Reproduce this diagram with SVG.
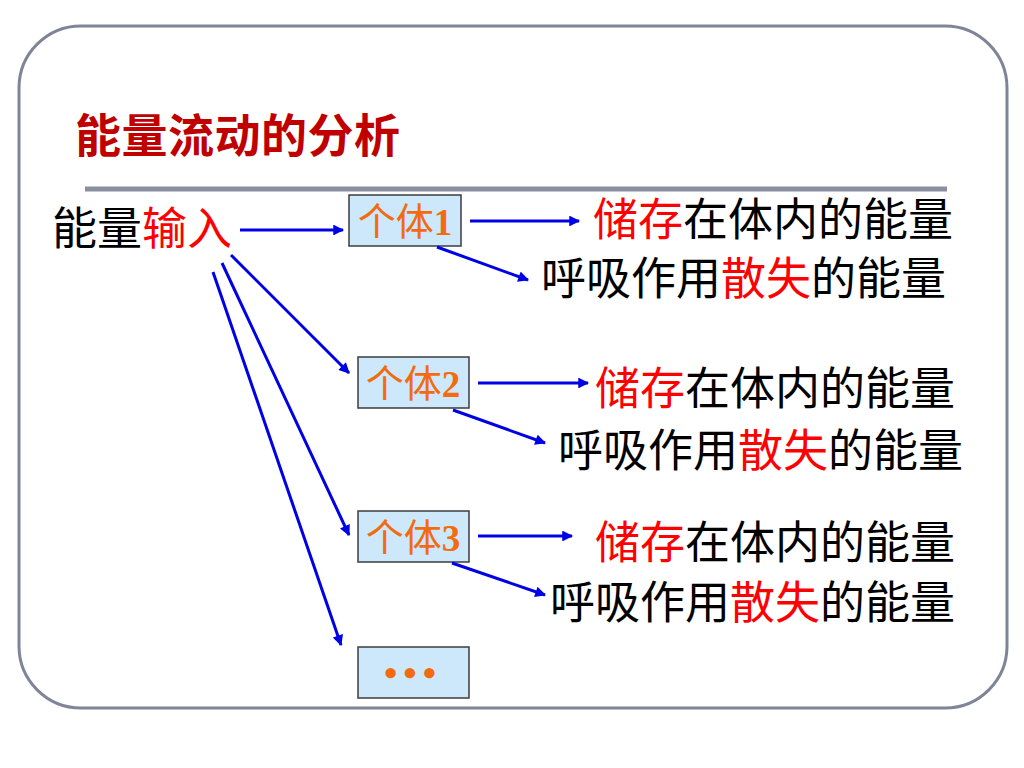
<svg xmlns="http://www.w3.org/2000/svg" width="1024" height="768" viewBox="0 0 1024 768">
<style>
.frame{fill:#ffffff;stroke:#7f8599;stroke-width:3}
.rule{stroke:#8a8fa0;stroke-width:5}
.box{fill:#cce8fa;stroke:#3c3c3c;stroke-width:1.5}
.cn{font-family:"Noto Sans CJK SC","Noto Sans CJK TC",sans-serif;font-size:45px;fill:#000000}
.red{fill:#ff0000}
.title{font-family:"Noto Sans CJK SC",sans-serif;font-size:46px;font-weight:bold;fill:#c00000}
.lbl{font-family:"Liberation Serif","Noto Sans CJK SC",serif;font-size:38px;fill:#f26b10}
.num{font-weight:bold;font-size:37px}
.arr{stroke:#0000e6;stroke-width:3;fill:none;marker-end:url(#ah)}
</style>
<defs>
<marker id="ah" viewBox="0 0 10 10" refX="9" refY="5" markerWidth="4" markerHeight="3.6" orient="auto" markerUnits="strokeWidth">
<path d="M0,0 L10,5 L0,10 z" fill="#0000e6"/>
</marker>
</defs>
<rect class="frame" x="19" y="26" width="988" height="682" rx="62" ry="62"/>
<text class="title" x="75" y="152" textLength="325">能量流动的分析</text>
<line class="rule" x1="85" y1="189" x2="947" y2="189"/>
<g id="source">
<text class="cn" x="52" y="245" font-size="44px"><tspan>能量</tspan><tspan class="red">输入</tspan></text>
</g>
<g id="box1">
<rect class="box" x="349" y="195" width="112" height="51"/>
<text class="lbl" x="405" y="235" text-anchor="middle">个体<tspan class="num">1</tspan></text>
</g>
<g id="box2">
<rect class="box" x="358" y="357" width="111" height="51"/>
<text class="lbl" x="413" y="397" text-anchor="middle">个体<tspan class="num">2</tspan></text>
</g>
<g id="box3">
<rect class="box" x="358" y="511" width="111" height="51"/>
<text class="lbl" x="413" y="551" text-anchor="middle">个体<tspan class="num">3</tspan></text>
</g>
<g id="box4">
<rect class="box" x="358" y="647" width="111" height="51"/>
<text class="lbl" x="413" y="686" text-anchor="middle" font-size="32px" font-weight="bold" letter-spacing="6">•••</text>
</g>
<g id="store1"><text class="cn" x="593" y="236"><tspan class="red">储存</tspan>在体内的能量</text></g>
<g id="loss1"><text class="cn" x="541" y="295">呼吸作用<tspan class="red">散失</tspan>的能量</text></g>
<g id="store2"><text class="cn" x="595" y="405"><tspan class="red">储存</tspan>在体内的能量</text></g>
<g id="loss2"><text class="cn" x="558" y="467">呼吸作用<tspan class="red">散失</tspan>的能量</text></g>
<g id="store3"><text class="cn" x="595" y="559"><tspan class="red">储存</tspan>在体内的能量</text></g>
<g id="loss3"><text class="cn" x="550" y="619">呼吸作用<tspan class="red">散失</tspan>的能量</text></g>
<g id="connectors">
<line class="arr" x1="240" y1="230" x2="343" y2="230"/>
<line class="arr" x1="231" y1="255" x2="349" y2="373"/>
<line class="arr" x1="222" y1="263" x2="349" y2="535"/>
<line class="arr" x1="213" y1="272" x2="341" y2="645"/>
<line class="arr" x1="470" y1="221" x2="579" y2="221"/>
<line class="arr" x1="437" y1="247" x2="528" y2="280"/>
<line class="arr" x1="478" y1="383" x2="588" y2="383"/>
<line class="arr" x1="453" y1="410" x2="545" y2="443"/>
<line class="arr" x1="478" y1="536" x2="572" y2="536"/>
<line class="arr" x1="452" y1="563" x2="545" y2="595"/>
</g>
</svg>
